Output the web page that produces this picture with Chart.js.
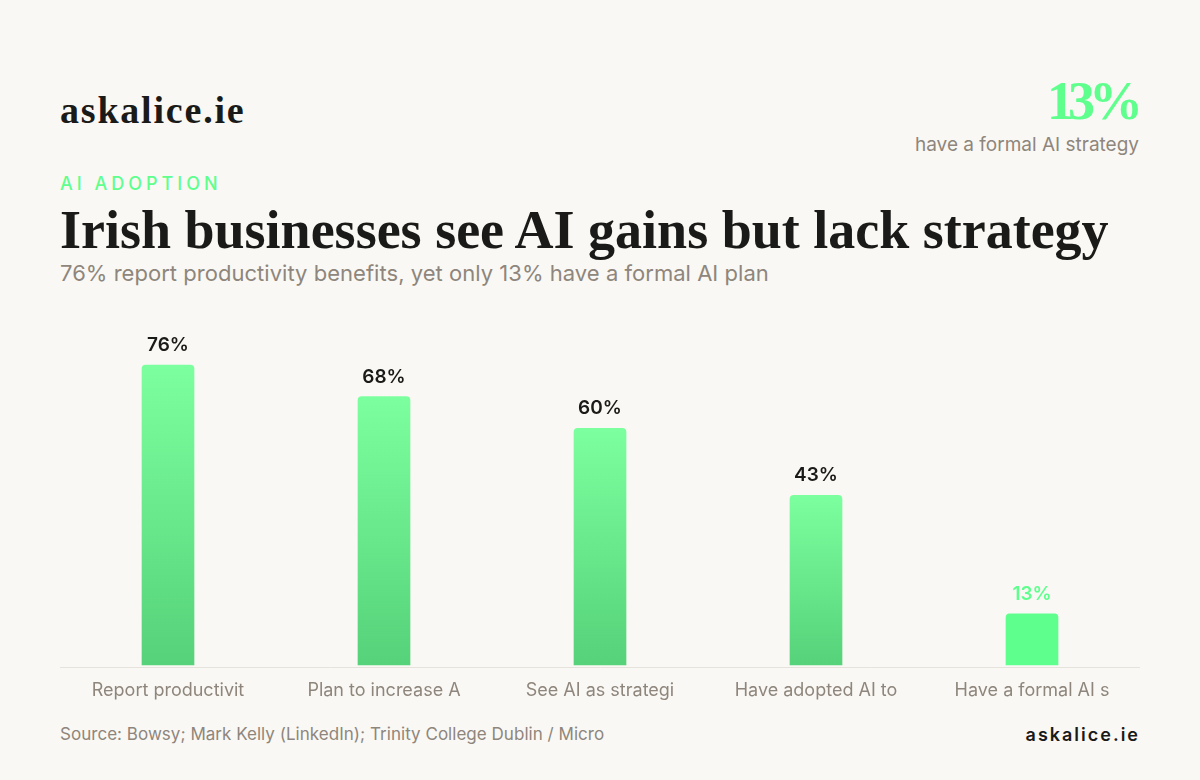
<!DOCTYPE html>
<html><head><meta charset="utf-8">
<script src="https://cdn.jsdelivr.net/npm/chart.js@4"></script>
<style>
html,body{margin:0;padding:0;width:1200px;height:780px;background:#FAF8F4;overflow:hidden}
body{position:relative;font-family:Inter,sans-serif}
.t{position:absolute;white-space:nowrap}
#wrap{position:absolute;left:60px;top:313px;width:1080px;height:400px}
</style></head><body>
<div class="t" style="left:60px;top:87.5px;font:700 38px 'Liberation Serif',serif;letter-spacing:1.8px;color:#1A1A18">askalice.ie</div>
<div class="t" style="right:63px;top:70px;font:700 54px 'Liberation Serif',serif;letter-spacing:-6px;color:#5FFF8E">13%</div>
<div class="t" style="right:61px;top:132.5px;font:400 19px Inter;color:#8E867C">have a formal AI strategy</div>
<div class="t" style="left:60px;top:173px;font:500 18px Inter;letter-spacing:4px;color:#5FFF8E">AI ADOPTION</div>
<div class="t" style="left:60px;top:199px;font:700 54px 'Liberation Serif',serif;color:#1A1A18">Irish businesses see AI gains but lack strategy</div>
<div class="t" style="left:60px;top:260px;font:400 22px Inter;letter-spacing:.03px;color:#8E867C">76% report productivity benefits, yet only 13% have a formal AI plan</div>
<div id="wrap"><canvas id="c" width="1080" height="400"></canvas></div>
<div class="t" style="left:60px;top:724px;font:400 17px Inter;letter-spacing:.03px;color:#8E867C">Source: Bowsy; Mark Kelly (LinkedIn); Trinity College Dublin / Micro</div>
<div class="t" style="right:60px;top:724px;font:600 18px Inter;letter-spacing:2px;color:#1A1A18">askalice.ie</div>
<script>
const categories=["Report productivit","Plan to increase A","See AI as strategi","Have adopted AI to","Have a formal AI s"];
const values=[76,68,60,43,13];
const accent="#5FFF8E", ink="#1A1A18", muted="#8E867C";
const labelPlugin={id:"valueLabels",afterDatasetsDraw(ch){
 const c=ch.ctx,m=ch.getDatasetMeta(0);
 c.save();c.textAlign="center";c.textBaseline="alphabetic";c.font="600 19px Inter";
 m.data.forEach((b,i)=>{c.fillStyle=i===values.length-1?accent:ink;c.fillText(values[i]+"%",b.x,b.y-14);});
 c.restore();}};
new Chart(document.getElementById("c"),{type:"bar",plugins:[labelPlugin],
 data:{labels:categories,datasets:[{data:values,barThickness:52,borderRadius:{topLeft:4,topRight:4},borderSkipped:"bottom",
  backgroundColor(ctx){
   if(ctx.dataIndex===values.length-1) return accent;
   const ch=ctx.chart,a=ch.chartArea; if(!a) return accent;
   const top=ch.scales.y.getPixelForValue(values[ctx.dataIndex]);
   const g=ch.ctx.createLinearGradient(0,top,0,ch.scales.y.getPixelForValue(0));
   g.addColorStop(0,"#7CFF9E");g.addColorStop(1,"#56D27A");return g;}}]},
 options:{responsive:false,animation:false,
  layout:{padding:0},
  plugins:{legend:{display:false},tooltip:{enabled:false}},
  scales:{
   x:{grid:{display:false,drawTicks:false},border:{color:"#E6E3DD",width:1},
      ticks:{color:muted,font:{family:"Inter",size:18},padding:12,maxRotation:0,autoSkip:false}},
   y:{display:false,min:-0.6,max:89.2}}}});
</script>
</body></html>
